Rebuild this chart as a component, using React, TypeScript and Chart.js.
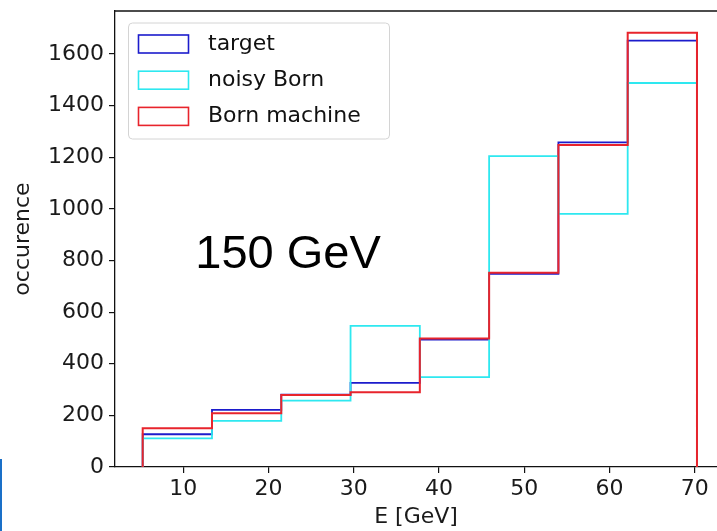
import React, { useEffect, useRef } from "react";
import { Chart, registerables } from "chart.js";

Chart.register(...registerables);

// ---- data ----
const binEdges = [5.23, 13.36, 21.49, 29.62, 37.75, 45.88, 54.01, 62.14, 70.27];
const targetCounts = [127, 221, 280, 326, 494, 748, 1258, 1652];
const noisyCounts = [111, 179, 257, 547, 348, 1205, 981, 1488];
const bornCounts = [150, 208, 279, 290, 498, 753, 1248, 1683];
const seriesLabels = ["target", "noisy Born", "Born machine"];
const seriesColors = ["#1c1ccc", "#2ee8f0", "#e8242c"];
const xTicks = [10, 20, 30, 40, 50, 60, 70];
const yTicks = [0, 200, 400, 600, 800, 1000, 1200, 1400, 1600];
const xTitle = "E [GeV]";
const yTitle = "occurence";
const annotationText = "150 GeV";
const annotationPos = { x: 11.4, y: 771 };

const FONT = "'DejaVu Sans', sans-serif";

function stepPoints(edges: number[], counts: number[]) {
  const pts: { x: number; y: number }[] = [{ x: edges[0], y: 0 }];
  counts.forEach((c, i) => {
    pts.push({ x: edges[i], y: c });
    pts.push({ x: edges[i + 1], y: c });
  });
  pts.push({ x: edges[edges.length - 1], y: 0 });
  return pts;
}

const overlayPlugin = {
  id: "overlay",
  afterDraw(chart: any) {
    const ctx = chart.ctx as CanvasRenderingContext2D;
    const ca = chart.chartArea;
    ctx.save();
    // top spine
    ctx.strokeStyle = "#111";
    ctx.lineWidth = 1.3;
    ctx.beginPath();
    ctx.moveTo(ca.left, ca.top);
    ctx.lineTo(ca.right, ca.top);
    ctx.stroke();

    // annotation
    const xs = chart.scales.x;
    const ys = chart.scales.y;
    ctx.fillStyle = "#000";
    ctx.font = "47px 'Liberation Sans', Arial, sans-serif";
    ctx.textBaseline = "alphabetic";
    ctx.textAlign = "left";
    ctx.fillText(annotationText, xs.getPixelForValue(annotationPos.x), ys.getPixelForValue(annotationPos.y));

    // legend
    const lx = ca.left + 13;
    const ly = ca.top + 11.5;
    const lw = 261;
    const lh = 116;
    ctx.fillStyle = "rgba(255,255,255,0.85)";
    ctx.strokeStyle = "#d4d4d4";
    ctx.lineWidth = 1;
    ctx.beginPath();
    (ctx as any).roundRect(lx + 0.5, ly + 0.5, lw, lh, 4);
    ctx.fill();
    ctx.stroke();
    ctx.font = `22px ${FONT}`;
    ctx.textBaseline = "middle";
    seriesLabels.forEach((lab, i) => {
      const cy = ly + 21.5 + i * 36.2;
      ctx.strokeStyle = seriesColors[i];
      ctx.lineWidth = 1.6;
      ctx.strokeRect(lx + 10.5, cy - 9, 50, 18);
      ctx.fillStyle = "#111";
      ctx.fillText(lab, lx + 80, cy);
    });
    ctx.restore();
  },
};

export default function App() {
  const ref = useRef<HTMLCanvasElement | null>(null);
  useEffect(() => {
    document.body.style.margin = "0";
    if (!ref.current) return;
    const datasets = [
      { label: seriesLabels[0], data: stepPoints(binEdges, targetCounts), color: seriesColors[0], order: 3, w: 1.8 },
      { label: seriesLabels[1], data: stepPoints(binEdges, noisyCounts), color: seriesColors[1], order: 2, w: 1.8 },
      { label: seriesLabels[2], data: stepPoints(binEdges, bornCounts), color: seriesColors[2], order: 1, w: 2 },
    ].map((d) => ({
      label: d.label,
      data: d.data,
      borderColor: d.color,
      backgroundColor: d.color,
      borderWidth: d.w,
      pointRadius: 0,
      tension: 0,
      fill: false,
      order: d.order,
    }));
    const chart = new Chart(ref.current, {
      type: "line",
      data: { datasets },
      options: {
        animation: false,
        responsive: false,
        devicePixelRatio: 1,
        layout: { padding: { top: 11, right: 0, left: 0, bottom: 0 } },
        plugins: { legend: { display: false }, tooltip: { enabled: false } },
        scales: {
          x: {
            type: "linear",
            min: 1.98,
            max: 72.62,
            afterBuildTicks: (s: any) => {
              s.ticks = xTicks.map((v) => ({ value: v }));
            },
            afterFit: (s: any) => {
              s.height = 64;
              s.paddingLeft = 0;
              s.paddingRight = 0;
            },
            grid: { drawOnChartArea: false, drawTicks: true, tickLength: 6, color: "#111", lineWidth: 1.2 },
            border: { display: true, color: "#111", width: 1.3 },
            ticks: {
              font: { family: FONT, size: 22 },
              color: "#1a1a1a",
              padding: 3,
              maxRotation: 0,
              autoSkip: false,
              callback: (v: any) => String(v),
            },
            title: { display: true, text: xTitle, font: { family: FONT, size: 22 }, color: "#1a1a1a", padding: { top: 0, bottom: 1 } },
          },
          y: {
            type: "linear",
            min: 0,
            max: 1767,
            afterBuildTicks: (s: any) => {
              s.ticks = yTicks.map((v) => ({ value: v }));
            },
            afterFit: (s: any) => {
              s.width = 115;
              s.paddingTop = 0;
              s.paddingBottom = 0;
            },
            grid: { drawOnChartArea: false, drawTicks: true, tickLength: 6, color: "#111", lineWidth: 1.2 },
            border: { display: true, color: "#111", width: 1.3 },
            ticks: {
              font: { family: FONT, size: 22 },
              color: "#1a1a1a",
              padding: 5,
              autoSkip: false,
              callback: (v: any) => String(v),
            },
            title: { display: true, text: yTitle, font: { family: FONT, size: 22 }, color: "#1a1a1a", padding: { top: 10, bottom: 0 } },
          },
        },
      },
      plugins: [overlayPlugin],
    } as any);
    return () => chart.destroy();
  }, []);
  return (
    <div style={{ position: "relative", width: 717, height: 531, background: "#fff", overflow: "hidden" }}>
      <canvas ref={ref} width={717} height={531} style={{ display: "block" }} />
      <div style={{ position: "absolute", left: 0, top: 459, width: 2, height: 72, background: "#1a70c8" }} />
    </div>
  );
}
